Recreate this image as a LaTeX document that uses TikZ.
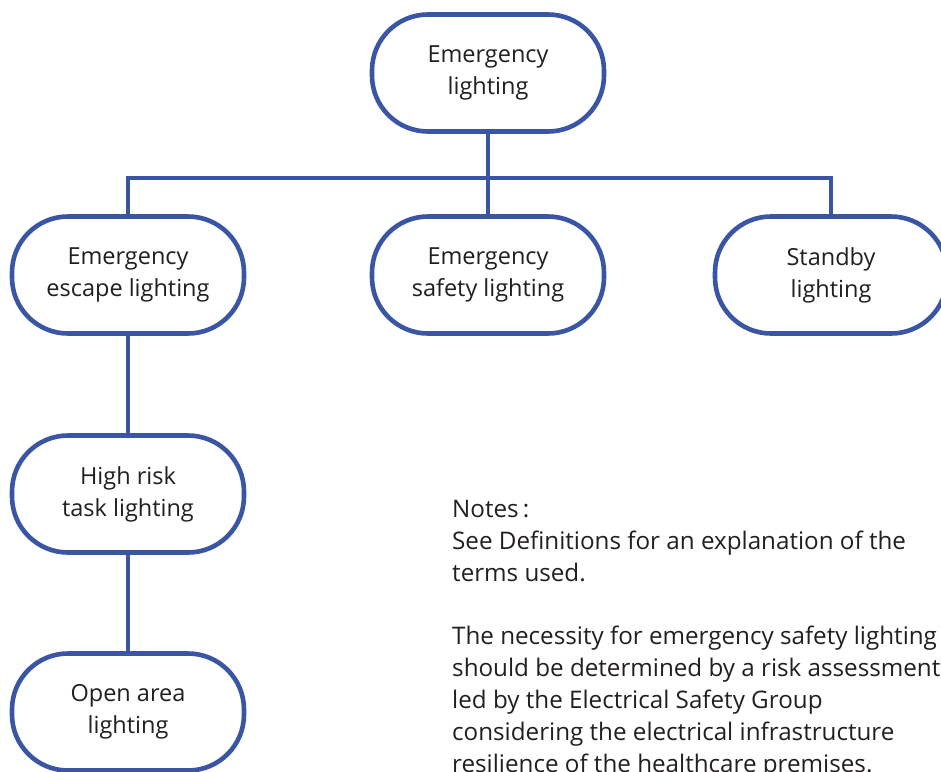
\documentclass[tikz,border=0pt]{standalone}
\usepackage{fontspec}
\setmainfont{Open Sans}
\definecolor{boxblue}{RGB}{58,85,164}
\definecolor{txt}{RGB}{35,31,32}
\begin{document}
\begin{tikzpicture}[x=1pt,y=1pt,
  lightbox/.style={draw=boxblue, line width=4.6pt, fill=white, minimum width=232pt, minimum height=117pt,
    rounded corners=56pt, align=center, text=txt, font=\fontsize{23.5}{32}\selectfont, inner sep=0pt},
  conn/.style={draw=boxblue, line width=4.2pt}]
\useasboundingbox (0,0) rectangle (941,-771);
\coordinate (bus) at (0,-178);
\node[lightbox] (top) at (488,-73) {Emergency\\lighting};
\node[lightbox] (esc) at (128,-275) {Emergency\\escape lighting};
\node[lightbox] (safe) at (488,-275) {Emergency\\safety lighting};
\node[lightbox] (std) at (831,-275) {Standby\\lighting};
\node[lightbox] (high) at (128,-494) {High risk\\task lighting};
\node[lightbox] (open) at (128,-712) {Open area\\lighting};
\draw[conn] (top.south) -- (top.south |- bus);
\draw[conn] (esc.north) -- (esc.north |- bus) -- (std.north |- bus) -- (std.north);
\draw[conn] (safe.north) -- (safe.north |- bus);
\draw[conn] (esc.south) -- (high.north);
\draw[conn] (high.south) -- (open.north);
\node[anchor=base west, align=left, text=txt, font=\fontsize{24.2}{31.8}\selectfont, inner sep=0pt] (notes) at (452,-772)
 {Notes\,:\\See Definitions for an explanation of the\\terms used.\\[31.8pt]The necessity for emergency safety lighting\\should be determined by a risk assessment\\led by the Electrical Safety Group\\considering the electrical infrastructure\\resilience of the healthcare premises.};
\end{tikzpicture}
\end{document}
